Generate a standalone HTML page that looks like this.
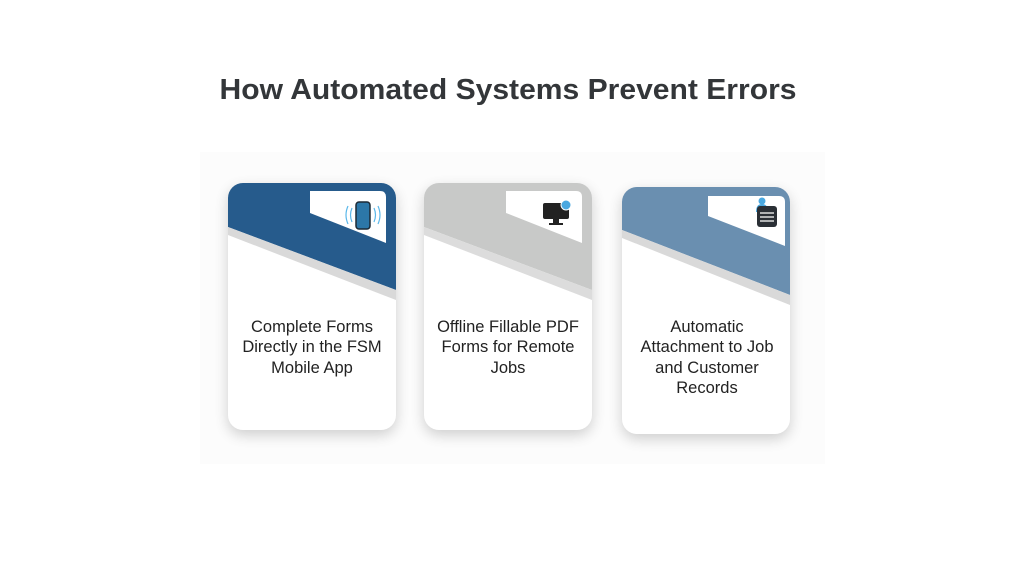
<!DOCTYPE html>
<html><head><meta charset="utf-8"><style>
html,body{margin:0;padding:0;background:#fff;width:1024px;height:576px;overflow:hidden}
svg{display:block}
text{font-family:"Liberation Sans",sans-serif}
</style></head><body>
<svg width="1024" height="576" viewBox="0 0 1024 576">
<defs>
<filter id="sh" x="-30%" y="-30%" width="160%" height="160%"><feGaussianBlur stdDeviation="7"/></filter>
<clipPath id="c1"><rect x="228" y="183" width="168" height="247" rx="15"/></clipPath>
<clipPath id="c2"><rect x="424" y="183" width="168" height="247" rx="15"/></clipPath>
<clipPath id="c3"><rect x="622" y="187" width="168" height="247" rx="15"/></clipPath>
</defs>
<rect x="200" y="152" width="625" height="312" fill="#fcfcfc"/>
<text x="508" y="99" text-anchor="middle" font-size="29" font-weight="bold" fill="#333639" textLength="577" lengthAdjust="spacingAndGlyphs">How Automated Systems Prevent Errors</text>

<!-- card 1 -->
<rect x="228" y="188" width="168" height="247" rx="15" fill="#000" opacity="0.18" filter="url(#sh)"/>
<g clip-path="url(#c1)">
<rect x="228" y="183" width="168" height="247" fill="#fff"/>
<polygon points="228,183 396,183 396,290 228,227" fill="#265b8c"/>
<polygon points="228,227 396,290 396,300 228,235" fill="#d9d9d9"/>
<path d="M310,191 H380 Q386,191 386,197 V243 L310,213 Z" fill="#fff"/>
<rect x="356" y="202" width="14" height="27" rx="3" fill="#2c77a8" stroke="#1c2a36" stroke-width="1.5"/>
<path d="M352,208 Q349,215 352,222 M348,206 Q344,215 348,224 M374,208 Q377,215 374,222 M378,206 Q382,215 378,224" stroke="#5bb8ea" stroke-width="1.2" fill="none"/>
</g>
<g font-size="16.5" fill="#222" text-anchor="middle">
<text x="312" y="332">Complete Forms</text>
<text x="312" y="352">Directly in the FSM</text>
<text x="312" y="373">Mobile App</text>
</g>

<!-- card 2 -->
<rect x="424" y="188" width="168" height="247" rx="15" fill="#000" opacity="0.18" filter="url(#sh)"/>
<g clip-path="url(#c2)">
<rect x="424" y="183" width="168" height="247" fill="#fff"/>
<polygon points="424,183 592,183 592,290 424,227" fill="#c8c9c8"/>
<polygon points="424,227 592,290 592,300 424,235" fill="#dcdcdc"/>
<path d="M506,191 H576 Q582,191 582,197 V243 L506,213 Z" fill="#fff"/>
<rect x="543" y="203" width="26" height="16" rx="2" fill="#222"/>
<rect x="553" y="219" width="6" height="4" fill="#222"/>
<rect x="549" y="223" width="14" height="2" fill="#222"/>
<circle cx="566" cy="205" r="5" fill="#4aa8e0" stroke="#fff" stroke-width="1"/>
</g>
<g font-size="16.5" fill="#222" text-anchor="middle">
<text x="508" y="332">Offline Fillable PDF</text>
<text x="508" y="352">Forms for Remote</text>
<text x="508" y="373">Jobs</text>
</g>

<!-- card 3 -->
<rect x="622" y="192" width="168" height="247" rx="15" fill="#000" opacity="0.18" filter="url(#sh)"/>
<g clip-path="url(#c3)">
<rect x="622" y="187" width="168" height="247" fill="#fff"/>
<polygon points="622,187 790,187 790,295 622,230" fill="#6a8fb0"/>
<polygon points="622,230 790,295 790,305 622,238" fill="#d9d9d9"/>
<path d="M708,196 H779 Q785,196 785,202 V246 L708,216 Z" fill="#fff"/>
<circle cx="762" cy="201" r="3.5" fill="#4aa8e0"/>
<path d="M756,212 Q756,204 762,204 Q768,204 768,212 Z" fill="#4aa8e0"/>
<rect x="757" y="206" width="20" height="21" rx="3" fill="#2a2f35"/>
<g stroke="#ddd" stroke-width="1.5"><line x1="760" y1="213" x2="774" y2="213"/><line x1="760" y1="217" x2="774" y2="217"/><line x1="760" y1="221" x2="774" y2="221"/></g>
</g>
<g font-size="16.5" fill="#222" text-anchor="middle">
<text x="707" y="332">Automatic</text>
<text x="707" y="352">Attachment to Job</text>
<text x="707" y="373">and Customer</text>
<text x="707" y="393">Records</text>
</g>
</svg>
</body></html>
